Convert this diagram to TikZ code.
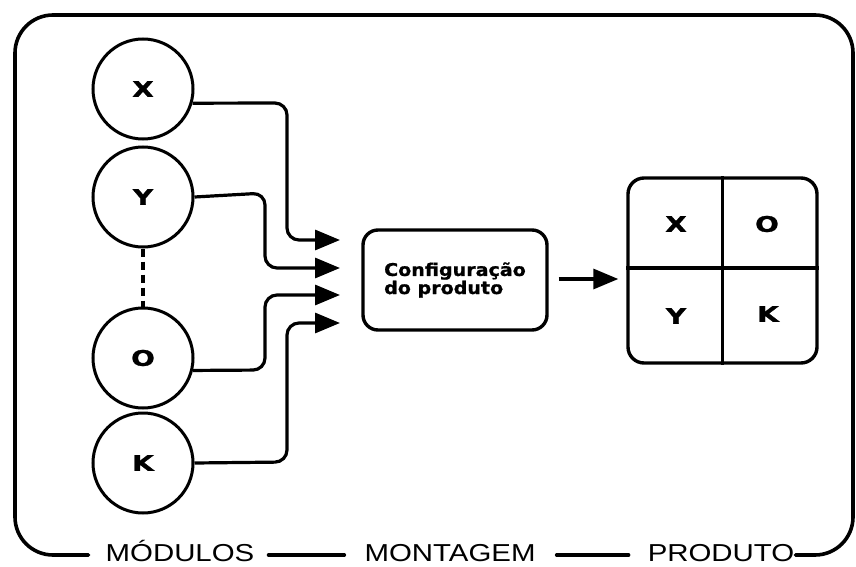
\documentclass[tikz,border=0pt]{standalone}
\usepackage{fontspec}
\setmainfont{Liberation Sans}
\newfontfamily\stagefont{Liberation Sans}[FakeStretch=1.2]
\newfontfamily\boldwide{DejaVu Sans}[FakeStretch=1.3, BoldFeatures={FakeBold=1.2}]
\newfontfamily\boldbox{DejaVu Sans}[FakeStretch=1.09, BoldFeatures={FakeBold=1}]
\usetikzlibrary{arrows.meta}
\tikzset{
  frame/.style={line width=3.6pt, line cap=round},
  modcirc/.style={draw, circle, line width=3pt, minimum size=100pt, inner sep=0pt,
    font=\boldwide\bfseries\fontsize{21.5}{23}\selectfont},
  conn/.style={line width=3.2pt, rounded corners=12pt, -{Triangle[length=25pt,width=20pt]}},
  cell/.style={font=\boldwide\bfseries\fontsize{21.5}{23}\selectfont},
  stage/.style={font=\stagefont\fontsize{24.5}{28}\selectfont, inner sep=0pt, anchor=base},
}
\begin{document}
\begin{tikzpicture}[x=1pt,y=-1pt]
\useasboundingbox (0,0) rectangle (856,567);
% stage labels
\node[stage] (mod) at (180,561) {MÓDULOS};
\node[stage] (mon) at (450,561) {MONTAGEM};
\node[stage] (pro) at (721,561) {PRODUTO};
\coordinate (base) at (0,555);
% outer frame
\draw[frame, rounded corners=38pt] ([xshift=-17pt]mod.west |- base) -- (15,555) -- (15,15) -- (853,15) -- (853,555) -- ([xshift=1pt]pro.east |- base);
\draw[frame, shorten <=14pt, shorten >=20pt] (mod.east |- base) -- (mon.west |- base);
\draw[frame, shorten <=21pt, shorten >=19pt] (mon.east |- base) -- (pro.west |- base);
% modules
\node[modcirc] (X) at (143,89) {X};
\node[modcirc] (Y) at (143,197) {Y};
\node[modcirc] (O) at (143,358) {O};
\node[modcirc] (K) at (143,463) {K};
\draw[line width=3.4pt, dash pattern=on 8pt off 5pt] (Y.south) -- (O.north);
% configuration box
\node[draw, line width=3.4pt, rounded corners=15pt, minimum width=184pt, minimum height=100pt,
  align=left, font=\boldbox\bfseries\fontsize{17.5}{17}\selectfont] (conf) at (455,280)
  {Configuração\\do produto};
\coordinate (t1) at (340,240);
\coordinate (t2) at (340,268);
\coordinate (t3) at (340,295);
\coordinate (t4) at (340,323);
\draw[conn] (X.-16) -- (287,103) -- (287,240) -- (t1);
\draw[conn] (Y.east) -- (265,193) -- (265,268) -- (t2);
\draw[conn] (O.-14) -- (265,370) -- (265,295) -- (t3);
\draw[conn] (K.east) -- (287,462) -- (287,323) -- (t4);
% product grid
\node[draw, line width=3.4pt, rounded corners=16pt, minimum width=189pt, minimum height=185pt] (grid) at (722.5,270.5) {};
\draw[line width=3.2pt] (grid.north) -- (grid.south);
\draw[line width=3.2pt] (grid.west |- 0,268) -- (grid.east |- 0,268);
\node[cell] (gX) at (676,224) {X};
\node[cell] (gO) at (767,224) {O};
\node[cell] (gY) at (676,316) {Y};
\node[cell] (gK) at (768,314) {K};
\draw[line width=3.2pt, -{Triangle[length=25pt,width=20pt]}, shorten <=10pt, shorten >=8pt] (conf.east |- 0,279) -- (grid.west |- 0,279);
\end{tikzpicture}
\end{document}
